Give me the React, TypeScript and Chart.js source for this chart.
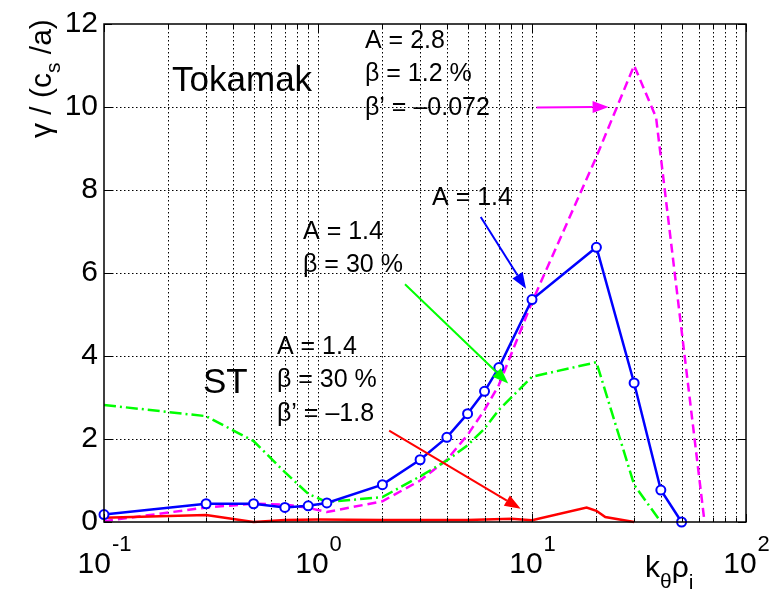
import React, { useEffect, useRef } from 'react';
import { Chart, registerables } from 'chart.js';

Chart.register(...registerables);

const F = '"Liberation Sans", Arial, Helvetica, sans-serif';

// ---- data (k_theta rho_i , gamma / (c_s/a)) ----
const blueX = [0.1, 0.3, 0.5, 0.7, 0.9, 1.1, 2, 3, 4, 5, 6, 7, 10, 20, 30, 40, 50];
const blueY = [0.18, 0.44, 0.44, 0.35, 0.39, 0.46, 0.9, 1.5, 2.04, 2.61, 3.15, 3.72, 5.36, 6.62, 3.35, 0.77, 0.0];

const greenX = [0.1, 0.3, 0.5, 0.7, 0.9, 1.1, 2, 3, 4, 5, 6, 7, 10, 20, 30, 40];
const greenY = [2.82, 2.55, 1.95, 1.2, 0.68, 0.48, 0.6, 1.1, 1.48, 1.85, 2.25, 2.7, 3.5, 3.85, 0.9, 0.0];

const magentaX = [0.1, 0.3, 0.5, 0.7, 0.9, 1.1, 2, 3, 4, 5, 6, 7, 10, 20, 30, 38, 64];
const magentaY = [0.02, 0.35, 0.44, 0.42, 0.34, 0.24, 0.5, 1.0, 1.5, 2.1, 2.7, 3.3, 5.3, 8.8, 11.0, 9.75, 0.0];

const redX = [0.1, 0.3, 0.5, 0.7, 1, 2, 5, 8, 10, 18, 20, 22, 30];
const redY = [0.1, 0.17, 0.0, 0.05, 0.06, 0.05, 0.05, 0.08, 0.04, 0.35, 0.27, 0.12, 0.0];

// axis ticks
const xDecades = [0.1, 1, 10];
const xMinorMult = [1, 2, 3, 4, 5, 6, 7, 8, 9];
const xMajor = [0.1, 1, 10, 100];
const xExp = ['-1', '0', '1', '2'];
const yTicks = [0, 2, 4, 6, 8, 10, 12];

// annotations (data coordinates of first-line baseline, left aligned)
const noteLines = [
  ['Tokamak'],
  ['ST'],
  ['A = 2.8', 'β = 1.2 %', 'β’ = –0.072'],
  ['A = 1.4'],
  ['A = 1.4', 'β = 30 %'],
  ['A = 1.4', 'β = 30 %', 'β’ = –1.8'],
];
const noteX = [0.208, 0.29, 1.658, 3.41, 0.851, 0.643];
const noteY = [10.39, 3.12, 11.43, 7.65, 6.83, 4.06];
const noteSize = [35, 35, 25, 25, 25, 25];

// arrows: from -> to (data coords)
const arrowFromX = [10.5, 5.76, 2.55, 2.15];
const arrowFromY = [9.99, 7.35, 5.73, 2.2];
const arrowToX = [22.8, 9.38, 7.74, 8.85];
const arrowToY = [10.0, 5.62, 3.34, 0.32];
const arrowColor = ['#ff00ff', '#0000ff', '#00ff00', '#ff0000'];

const pts = (xs: number[], ys: number[]) => xs.map((x, i) => ({ x, y: ys[i] }));

function drawArrow(ctx: CanvasRenderingContext2D, x1: number, y1: number, x2: number, y2: number, color: string) {
  const ang = Math.atan2(y2 - y1, x2 - x1);
  const L = 16;
  const W = 6;
  const bx = x2 - L * Math.cos(ang);
  const by = y2 - L * Math.sin(ang);
  ctx.save();
  ctx.setLineDash([]);
  ctx.strokeStyle = color;
  ctx.lineWidth = 2;
  ctx.beginPath();
  ctx.moveTo(x1, y1);
  ctx.lineTo(bx, by);
  ctx.stroke();
  ctx.fillStyle = color;
  ctx.beginPath();
  ctx.moveTo(x2, y2);
  ctx.lineTo(bx + W * Math.sin(ang), by - W * Math.cos(ang));
  ctx.lineTo(bx - W * Math.sin(ang), by + W * Math.cos(ang));
  ctx.closePath();
  ctx.fill();
  ctx.restore();
}

const xTickValues = (): number[] => {
  const v: number[] = [];
  xDecades.forEach((d) => xMinorMult.forEach((m) => v.push(+(d * m).toPrecision(3))));
  v.push(100);
  return v;
};

const overlay = {
  id: 'overlay',
  beforeDatasetsDraw(chart: any) {
    const { ctx, chartArea: a, scales } = chart;
    const xs = scales.x;
    const ys = scales.y;
    ctx.save();
    ctx.strokeStyle = '#000000';
    ctx.lineWidth = 1;
    ctx.setLineDash([1.5, 2.5]);
    xTickValues().forEach((v) => {
      if (v <= 0.1 || v >= 100) return;
      const px = Math.round(xs.getPixelForValue(v)) + 0.5;
      ctx.beginPath();
      ctx.moveTo(px, a.top);
      ctx.lineTo(px, a.bottom);
      ctx.stroke();
    });
    yTicks.forEach((v) => {
      if (v <= 0 || v >= 12) return;
      const py = Math.round(ys.getPixelForValue(v)) + 0.5;
      ctx.beginPath();
      ctx.moveTo(a.left, py);
      ctx.lineTo(a.right, py);
      ctx.stroke();
    });
    ctx.restore();
  },
  afterDraw(chart: any) {
    const { ctx, chartArea: a, scales } = chart;
    const xs = scales.x;
    const ys = scales.y;
    ctx.save();
    ctx.setLineDash([]);
    // box
    ctx.strokeStyle = '#000';
    ctx.lineWidth = 1.5;
    ctx.strokeRect(a.left, a.top, a.right - a.left, a.bottom - a.top);
    // inward tick marks
    ctx.lineWidth = 1;
    xTickValues().forEach((v) => {
      const px = Math.round(xs.getPixelForValue(v)) + 0.5;
      const len = xMajor.includes(v) ? 8 : 4;
      ctx.beginPath();
      ctx.moveTo(px, a.bottom);
      ctx.lineTo(px, a.bottom - len);
      ctx.moveTo(px, a.top);
      ctx.lineTo(px, a.top + len);
      ctx.stroke();
    });
    yTicks.forEach((v) => {
      const py = Math.round(ys.getPixelForValue(v)) + 0.5;
      ctx.beginPath();
      ctx.moveTo(a.left, py);
      ctx.lineTo(a.left + 8, py);
      ctx.moveTo(a.right, py);
      ctx.lineTo(a.right - 8, py);
      ctx.stroke();
    });

    // x tick labels 10^n
    ctx.fillStyle = '#000';
    ctx.textAlign = 'left';
    ctx.textBaseline = 'alphabetic';
    xMajor.forEach((v, i) => {
      const px = xs.getPixelForValue(v);
      ctx.font = `30px ${F}`;
      const wb = ctx.measureText('10').width;
      ctx.font = `22px ${F}`;
      const we = ctx.measureText(xExp[i]).width;
      const start = px - (wb + we) / 2;
      ctx.font = `30px ${F}`;
      ctx.fillText('10', start, a.bottom + 51);
      ctx.font = `22px ${F}`;
      ctx.fillText(xExp[i], start + wb + 1, a.bottom + 29);
    });

    // x axis title k_theta rho_i
    let tx = a.right - 101;
    const tb = a.bottom + 55;
    ctx.font = `30px ${F}`;
    ctx.fillText('k', tx, tb);
    tx += ctx.measureText('k').width;
    ctx.font = `21px ${F}`;
    ctx.fillText('θ', tx, tb + 11);
    tx += ctx.measureText('θ').width;
    ctx.font = `30px ${F}`;
    ctx.fillText('ρ', tx, tb);
    tx += ctx.measureText('ρ').width;
    ctx.font = `21px ${F}`;
    ctx.fillText('i', tx, tb + 12);

    // y axis title gamma / (c_s /a), rotated
    ctx.save();
    ctx.translate(a.left - 53, a.top + 114);
    ctx.rotate(-Math.PI / 2);
    let ty = 0;
    ctx.font = `30px ${F}`;
    ctx.fillText('γ / (c', ty, 0);
    ty += ctx.measureText('γ / (c').width;
    ctx.font = `21px ${F}`;
    ctx.fillText('s', ty, 9);
    ty += ctx.measureText('s').width;
    ctx.font = `30px ${F}`;
    ctx.fillText(' /a)', ty, 0);
    ctx.restore();

    // annotations
    noteLines.forEach((lines, i) => {
      const px = xs.getPixelForValue(noteX[i]);
      const py = ys.getPixelForValue(noteY[i]);
      ctx.font = `${noteSize[i]}px ${F}`;
      lines.forEach((t, j) => ctx.fillText(t, px, py + j * 33.5));
    });

    // arrows
    arrowColor.forEach((c, i) => {
      drawArrow(
        ctx,
        xs.getPixelForValue(arrowFromX[i]),
        ys.getPixelForValue(arrowFromY[i]),
        xs.getPixelForValue(arrowToX[i]),
        ys.getPixelForValue(arrowToY[i]),
        c
      );
    });
    ctx.restore();
  },
};

export default function App() {
  const ref = useRef<HTMLCanvasElement | null>(null);
  useEffect(() => {
    if (!ref.current) return;
    const chart = new Chart(ref.current, {
      type: 'line',
      data: {
        datasets: [
          {
            label: 'A = 1.4',
            data: pts(blueX, blueY),
            borderColor: '#0000ff',
            backgroundColor: '#0000ff',
            borderWidth: 2.5,
            pointRadius: 4.5,
            pointBorderWidth: 2,
            pointBackgroundColor: '#ffffff',
            pointBorderColor: '#0000ff',
            clip: false,
          } as any,
          {
            label: 'ST beta 30%',
            data: pts(redX, redY),
            borderColor: '#ff0000',
            borderWidth: 2.5,
            pointRadius: 0,
            clip: false,
          } as any,
          {
            label: 'A = 1.4 beta 30%',
            data: pts(greenX, greenY),
            borderColor: '#00ff00',
            borderWidth: 2.5,
            borderDash: [12, 4, 2, 4],
            pointRadius: 0,
            clip: false,
          } as any,
          {
            label: 'Tokamak A = 2.8',
            data: pts(magentaX, magentaY),
            borderColor: '#ff00ff',
            borderWidth: 2.5,
            borderDash: [9, 5],
            pointRadius: 0,
            clip: false,
          } as any,
        ],
      },
      options: {
        responsive: false,
        animation: false,
        devicePixelRatio: 1,
        layout: { padding: { top: 14, right: 27, left: 0, bottom: 0 } },
        plugins: { legend: { display: false }, tooltip: { enabled: false } },
        scales: {
          x: {
            type: 'logarithmic',
            min: 0.1,
            max: 100,
            ticks: { display: false },
            grid: { display: false, drawTicks: false },
            border: { display: false },
            afterFit: (s: any) => {
              s.height = 76;
            },
          },
          y: {
            type: 'linear',
            min: 0,
            max: 12,
            ticks: { stepSize: 2, color: '#000', padding: 6, font: { family: F, size: 30 } },
            grid: { display: false, drawTicks: false },
            border: { display: false },
            afterFit: (s: any) => {
              s.width = 104;
            },
          },
        },
      } as any,
      plugins: [overlay],
    });
    return () => chart.destroy();
  }, []);
  return (
    <div style={{ position: 'fixed', left: 0, top: 0, width: 773, height: 598, background: '#fff' }}>
      <canvas ref={ref} width={773} height={598} style={{ display: 'block' }} />
    </div>
  );
}
